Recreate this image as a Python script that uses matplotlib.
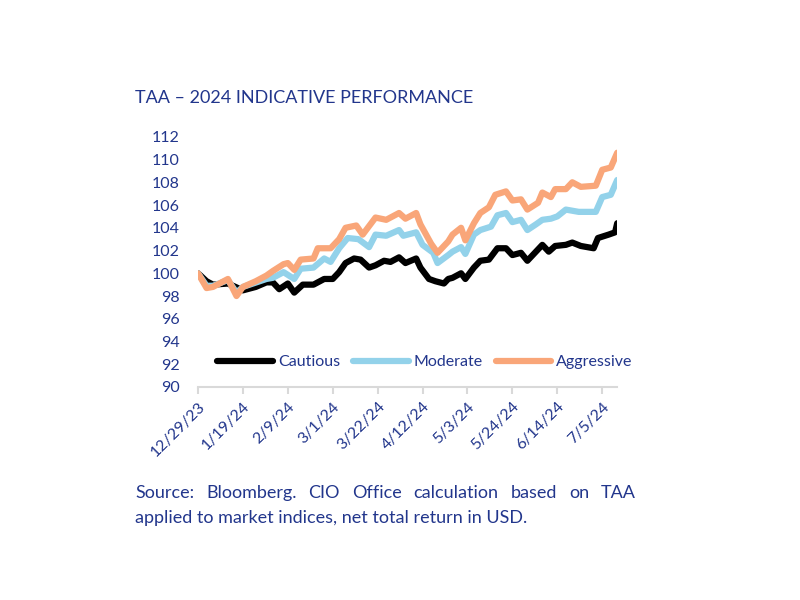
import matplotlib.pyplot as plt
import pandas as pd

# data
cautious_dates = ["2023-12-29", "2024-01-02", "2024-01-05", "2024-01-12", "2024-01-19", "2024-01-25",
                  "2024-01-30", "2024-02-02", "2024-02-05", "2024-02-09", "2024-02-12", "2024-02-16",
                  "2024-02-21", "2024-02-26", "2024-03-01", "2024-03-04", "2024-03-07", "2024-03-11",
                  "2024-03-14", "2024-03-18", "2024-03-21", "2024-03-25", "2024-03-28", "2024-04-01",
                  "2024-04-04", "2024-04-09", "2024-04-11", "2024-04-15", "2024-04-18", "2024-04-22",
                  "2024-04-24", "2024-04-26", "2024-04-30", "2024-05-02", "2024-05-06", "2024-05-09",
                  "2024-05-13", "2024-05-17", "2024-05-21", "2024-05-24", "2024-05-28", "2024-05-31",
                  "2024-06-04", "2024-06-07", "2024-06-10", "2024-06-13", "2024-06-18", "2024-06-21",
                  "2024-06-25", "2024-07-01", "2024-07-03", "2024-07-08", "2024-07-11", "2024-07-12"]
cautious = [100.0, 99.3, 99.0, 99.1, 98.5, 98.8,
            99.2, 99.2, 98.6, 99.1, 98.3, 99.0,
            99.0, 99.5, 99.5, 100.1, 100.9, 101.3,
            101.2, 100.5, 100.7, 101.1, 101.0, 101.4,
            100.9, 101.3, 100.5, 99.5, 99.3, 99.1,
            99.5, 99.6, 100.0, 99.5, 100.5, 101.1,
            101.2, 102.2, 102.2, 101.6, 101.8, 101.1,
            101.9, 102.5, 101.9, 102.4, 102.5, 102.7,
            102.4, 102.2, 103.1, 103.4, 103.6, 104.4]

moderate_dates = ["2023-12-29", "2024-01-02", "2024-01-05", "2024-01-12", "2024-01-16", "2024-01-19",
                  "2024-01-30", "2024-02-02", "2024-02-07", "2024-02-12", "2024-02-15", "2024-02-21",
                  "2024-02-26", "2024-02-29", "2024-03-04", "2024-03-08", "2024-03-13", "2024-03-18",
                  "2024-03-21", "2024-03-26", "2024-04-01", "2024-04-03", "2024-04-09", "2024-04-12",
                  "2024-04-17", "2024-04-19", "2024-04-24", "2024-04-26", "2024-04-30", "2024-05-02",
                  "2024-05-06", "2024-05-09", "2024-05-14", "2024-05-17", "2024-05-21", "2024-05-24",
                  "2024-05-28", "2024-05-31", "2024-06-04", "2024-06-07", "2024-06-11", "2024-06-14",
                  "2024-06-18", "2024-06-24", "2024-07-02", "2024-07-05", "2024-07-09", "2024-07-12"]
moderate = [100.0, 98.9, 98.9, 99.4, 98.3, 98.8,
            99.5, 99.6, 100.1, 99.5, 100.4, 100.5,
            101.3, 101.0, 102.2, 103.1, 103.0, 102.3,
            103.4, 103.3, 103.8, 103.3, 103.6, 102.5,
            101.8, 100.9, 101.6, 101.9, 102.3, 101.7,
            103.4, 103.8, 104.1, 105.1, 105.3, 104.5,
            104.7, 103.8, 104.3, 104.7, 104.8, 105.0,
            105.6, 105.4, 105.4, 106.7, 106.9, 108.2]

aggressive_dates = ["2023-12-29", "2024-01-02", "2024-01-05", "2024-01-12", "2024-01-16", "2024-01-19",
                    "2024-01-25", "2024-01-30", "2024-02-02", "2024-02-07", "2024-02-09", "2024-02-12",
                    "2024-02-15", "2024-02-21", "2024-02-23", "2024-02-29", "2024-03-04", "2024-03-07",
                    "2024-03-12", "2024-03-15", "2024-03-21", "2024-03-26", "2024-04-01", "2024-04-04",
                    "2024-04-09", "2024-04-11", "2024-04-16", "2024-04-19", "2024-04-24", "2024-04-26",
                    "2024-04-30", "2024-05-02", "2024-05-06", "2024-05-09", "2024-05-13", "2024-05-16",
                    "2024-05-21", "2024-05-24", "2024-05-28", "2024-05-31", "2024-06-05", "2024-06-07",
                    "2024-06-11", "2024-06-13", "2024-06-18", "2024-06-21", "2024-06-25", "2024-07-02",
                    "2024-07-05", "2024-07-09", "2024-07-12"]
aggressive = [100.0, 98.7, 98.8, 99.5, 98.0, 98.8,
              99.3, 99.8, 100.2, 100.8, 100.9, 100.3,
              101.2, 101.3, 102.2, 102.2, 103.0, 104.0,
              104.2, 103.4, 104.9, 104.7, 105.3, 104.8,
              105.3, 104.3, 102.6, 101.8, 102.8, 103.4,
              104.0, 102.9, 104.4, 105.3, 105.8, 106.9,
              107.2, 106.4, 106.5, 105.6, 106.2, 107.1,
              106.7, 107.4, 107.4, 108.0, 107.6, 107.7,
              109.1, 109.3, 110.6]

tick_dates = ["2023-12-29", "2024-01-19", "2024-02-09", "2024-03-01", "2024-03-22",
              "2024-04-12", "2024-05-03", "2024-05-24", "2024-06-14", "2024-07-05"]
tick_labels = ["12/29/23", "1/19/24", "2/9/24", "3/1/24", "3/22/24",
               "4/12/24", "5/3/24", "5/24/24", "6/14/24", "7/5/24"]

navy = "#22368C"
plt.rcParams['font.family'] = ['Lato', 'DejaVu Sans']

fig = plt.figure(figsize=(8, 6), dpi=100)
ax = fig.add_axes([0.2475, 0.355, 0.524, 0.417])

ax.plot(pd.to_datetime(cautious_dates), cautious, color="black", lw=4.5, label="Cautious",
        solid_capstyle="round", solid_joinstyle="round")
ax.plot(pd.to_datetime(moderate_dates), moderate, color="#93D2EA", lw=4.5, label="Moderate",
        solid_capstyle="round", solid_joinstyle="round")
ax.plot(pd.to_datetime(aggressive_dates), aggressive, color="#F9A679", lw=4.5, label="Aggressive",
        solid_capstyle="round", solid_joinstyle="round")

ax.set_ylim(90, 112)
ax.set_yticks(range(90, 113, 2))
ax.set_xlim(pd.Timestamp("2023-12-29"), pd.Timestamp("2024-07-12"))
ax.set_xticks(pd.to_datetime(tick_dates))
ax.set_xticklabels(tick_labels, rotation=45, ha="right", rotation_mode="anchor")

for s in ["top", "right", "left"]:
    ax.spines[s].set_visible(False)
ax.spines["bottom"].set_color("#D9D9D9")
ax.spines["bottom"].set_linewidth(1.5)
ax.tick_params(axis="y", length=0, labelsize=11.5, labelcolor=navy, pad=13)
ax.tick_params(axis="x", length=5, width=1.5, color="#D9D9D9", labelsize=11.5, labelcolor=navy, pad=4)

leg = fig.legend(loc="center", bbox_to_anchor=(425 / 800, 1 - 362 / 600), ncol=3, frameon=False,
                 fontsize=11.5, handlelength=3.5, handletextpad=0.3, columnspacing=0.8)
for t in leg.get_texts():
    t.set_color(navy)

fig.text(135 / 800, 1 - 98 / 600, "TAA \u2013 2024 INDICATIVE PERFORMANCE", color=navy,
         fontsize=13, va="center", ha="left")

# justified first line of the source note
line1 = "Source: Bloomberg. CIO Office calculation based on TAA".split()
line2 = "applied to market indices, net total return in USD."
x0, x1 = 135, 636
y1 = 1 - 493 / 600
fig.canvas.draw()
r = fig.canvas.get_renderer()
words = [fig.text(0, y1, w, color=navy, fontsize=13, va="center") for w in line1]
widths = [w.get_window_extent(r).width for w in words]
gap = (x1 - x0 - sum(widths)) / (len(words) - 1)
x = x0
for w, wd in zip(words, widths):
    w.set_x(x / 800)
    x += wd + gap
fig.text(x0 / 800, 1 - 518 / 600, line2, color=navy, fontsize=13, va="center")

fig.savefig("out.png", dpi=100)
